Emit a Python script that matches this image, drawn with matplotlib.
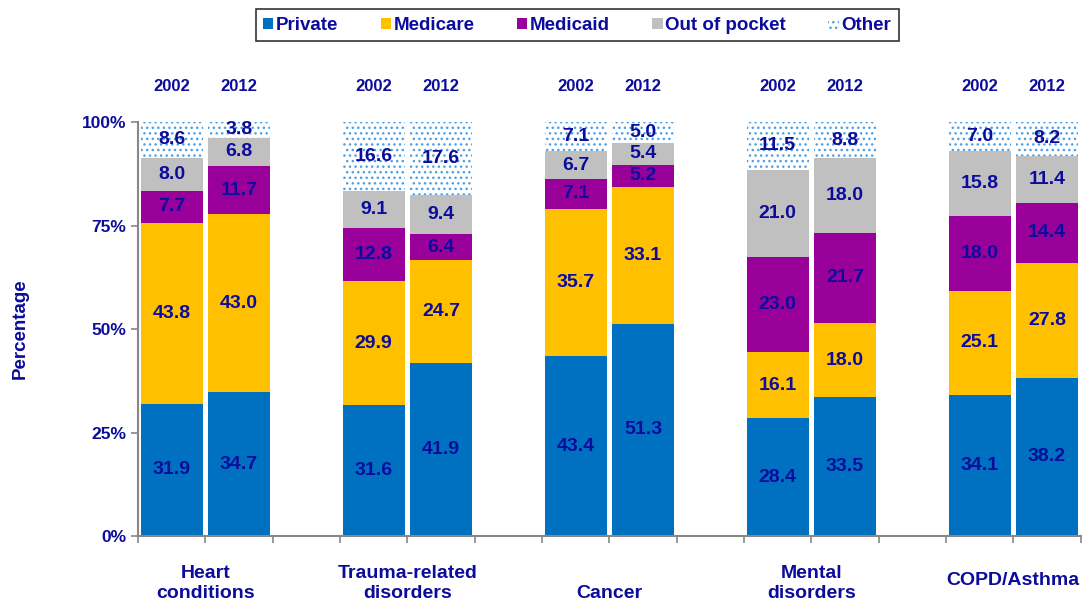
import numpy as np
import matplotlib
matplotlib.use("Agg")
import matplotlib.pyplot as plt
from matplotlib.patches import Patch

plt.rcParams["font.family"] = ["Liberation Sans", "DejaVu Sans"]
plt.rcParams["font.weight"] = "bold"
plt.rcParams["hatch.linewidth"] = 1.0

# Conditions and years
categories = ["Heart\nconditions", "Trauma-related\ndisorders", "\nCancer", "Mental\ndisorders", "COPD/Asthma"]
years = ["2002", "2012"]

# Shares by payer, order: Heart 02, Heart 12, Trauma 02, Trauma 12, Cancer 02, Cancer 12,
# Mental 02, Mental 12, COPD 02, COPD 12
private = [31.9, 34.7, 31.6, 41.9, 43.4, 51.3, 28.4, 33.5, 34.1, 38.2]
medicare = [43.8, 43.0, 29.9, 24.7, 35.7, 33.1, 16.1, 18.0, 25.1, 27.8]
medicaid = [7.7, 11.7, 12.8, 6.4, 7.1, 5.2, 23.0, 21.7, 18.0, 14.4]
out_of_pocket = [8.0, 6.8, 9.1, 9.4, 6.7, 5.4, 21.0, 18.0, 15.8, 11.4]
other = [8.6, 3.8, 16.6, 17.6, 7.1, 5.0, 11.5, 8.8, 7.0, 8.2]

series = [
    ("Private", private, "#0070C0"),
    ("Medicare", medicare, "#FFC000"),
    ("Medicaid", medicaid, "#990099"),
    ("Out of pocket", out_of_pocket, "#C0C0C0"),
]

TXT = "#0C0C9C"
DOT = "#4C9FE4"

fig = plt.figure(figsize=(10.91, 6.10), dpi=100)
ax = fig.add_axes([0.1265, 0.1213, 0.864, 0.6787])

# bar slots: two bars per group, one empty slot between groups
x = np.array([g * 3 + k for g in range(len(categories)) for k in range(2)], dtype=float)
width = 0.92

bottom = np.zeros(len(x))
for name, vals, col in series:
    vals = np.array(vals)
    ax.bar(x, vals, width, bottom=bottom, color=col, linewidth=0)
    for xi, b, v in zip(x, bottom, vals):
        ax.text(xi, b + v / 2, f"{v:.1f}", ha="center", va="center",
                color=TXT, fontsize=14, fontweight="bold")
    bottom += vals

vals = np.array(other)
ax.bar(x, vals, width, bottom=bottom, color="white", edgecolor=DOT,
       hatch="...", linewidth=0)
for xi, b, v in zip(x, bottom, vals):
    ax.text(xi, b + v / 2, f"{v:.1f}", ha="center", va="center",
            color=TXT, fontsize=14, fontweight="bold")

# year labels above bars
for i, xi in enumerate(x):
    ax.text(xi, 108.5, years[i % 2], ha="center", va="center", color=TXT,
            fontsize=12, fontweight="bold", clip_on=False)

# category labels below axis
for g, lab in enumerate(categories):
    cx = g * 3 + 0.5
    y0 = -8.8 if lab == "COPD/Asthma" else -7.0
    ax.text(cx, y0, lab, ha="center", va="top", color=TXT, fontsize=14,
            fontweight="bold", linespacing=1.2)

ax.set_xlim(-0.5, 13.5)
ax.set_ylim(0, 100)
ax.set_xticks(np.arange(-0.5, 14, 1.0))
ax.set_xticklabels([])
ax.set_yticks([0, 25, 50, 75, 100])
ax.set_yticklabels(["0%", "25%", "50%", "75%", "100%"])
ax.tick_params(axis="both", colors="#888888", length=5, width=1.2, direction="out")
ax.tick_params(axis="y", labelcolor=TXT, labelsize=12.5)
for lab in ax.get_yticklabels():
    lab.set_fontweight("bold")
ax.spines["top"].set_visible(False)
ax.spines["right"].set_visible(False)
ax.spines["left"].set_color("#888888")
ax.spines["bottom"].set_color("#888888")
ax.spines["left"].set_linewidth(1.5)
ax.spines["bottom"].set_linewidth(1.5)

ax.set_ylabel("Percentage", color=TXT, fontsize=13.5, fontweight="bold", labelpad=38)

handles = [Patch(facecolor=c, edgecolor="none", label=n) for n, _, c in series]
handles.append(Patch(facecolor="white", edgecolor=DOT, hatch="...",
                     linewidth=0, label="Other"))
leg = fig.legend(handles=handles, loc="upper center", bbox_to_anchor=(0.529, 1.0),
                 ncol=5, frameon=True, fancybox=False, handlelength=0.55,
                 handleheight=0.55, handletextpad=0.15, columnspacing=2.25,
                 fontsize=13.5, borderpad=0.4)
leg.get_frame().set_edgecolor("black")
leg.get_frame().set_linewidth(1.2)
for t in leg.get_texts():
    t.set_color(TXT)
    t.set_fontweight("bold")

fig.savefig("out.png", dpi=100)
